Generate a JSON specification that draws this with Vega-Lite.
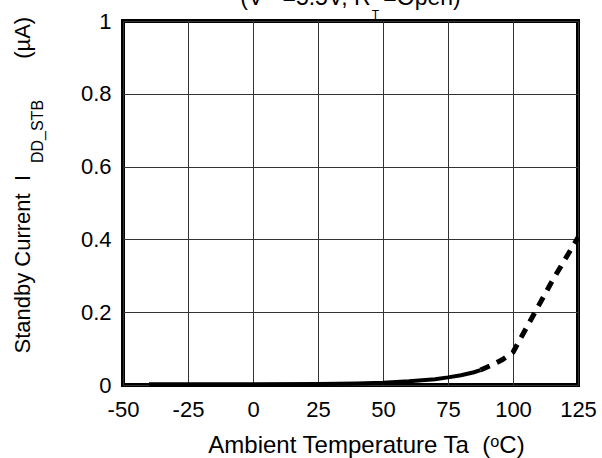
{
  "$schema": "https://vega.github.io/schema/vega-lite/v6.json",
  "width": 455,
  "height": 364,
  "autosize": {"type": "none"},
  "padding": {"left": 123, "top": 21, "right": 24, "bottom": 73},
  "background": "white",
  "title": {
    "text": "(V\u00a0\u00a0\u00a0=5.5V, R\u00a0\u00a0=Open)",
    "subtitle": "\u200b\u00a0\u00a0\u00a0\u00a0\u00a0\u00a0\u00a0\u00a0\u00a0\u00a0\u00a0\u00a0\u00a0\u00a0\u00a0T",
    "anchor": "middle",
    "font": "Liberation Sans",
    "fontSize": 23,
    "fontWeight": "normal",
    "color": "black",
    "subtitleFont": "Liberation Sans",
    "subtitleFontSize": 12,
    "subtitleColor": "black",
    "subtitlePadding": 0,
    "offset": 0,
    "dy": 11
  },
  "config": {
    "view": {"stroke": "black", "strokeWidth": 4},
    "font": "Liberation Sans"
  },
  "datasets": {
    "solid": [
      {"t": -40, "i": 0.002},
      {"t": -25, "i": 0.002},
      {"t": 0, "i": 0.002},
      {"t": 25, "i": 0.003},
      {"t": 40, "i": 0.004},
      {"t": 50, "i": 0.006},
      {"t": 60, "i": 0.01},
      {"t": 70, "i": 0.016},
      {"t": 75, "i": 0.021},
      {"t": 80, "i": 0.027},
      {"t": 85, "i": 0.035},
      {"t": 87.5, "i": 0.041}
    ],
    "dashed": [
      {"t": 87.5, "i": 0.041},
      {"t": 92, "i": 0.055},
      {"t": 96, "i": 0.07},
      {"t": 100, "i": 0.09},
      {"t": 105, "i": 0.155},
      {"t": 110, "i": 0.22},
      {"t": 115, "i": 0.285},
      {"t": 120, "i": 0.345},
      {"t": 125, "i": 0.405}
    ]
  },
  "layer": [
    {
      "data": {"name": "solid"},
      "mark": {"type": "line", "color": "black", "strokeWidth": 4},
      "encoding": {
        "x": {
          "field": "t",
          "type": "quantitative",
          "scale": {"domain": [-50, 125], "nice": false},
          "axis": {
            "values": [-50, -25, 0, 25, 50, 75, 100, 125],
            "labelExpr": "'' + datum.value",
            "grid": true,
            "gridColor": "#333333",
            "gridWidth": 1,
            "gridOpacity": 1,
            "domain": false,
            "ticks": false,
            "labelFont": "Liberation Sans",
            "labelFontSize": 22,
            "labelColor": "black",
            "labelPadding": 14,
            "labelFlush": false,
            "title": "Ambient Temperature Ta\u00a0\u00a0(\u1d52C)",
            "titleFont": "Liberation Sans",
            "titleFontSize": 24,
            "titleFontWeight": "normal",
            "titleColor": "black",
            "titleX": 243,
            "titleY": 67,
            "titleBaseline": "alphabetic",
            "titleAlign": "center"
          }
        },
        "y": {
          "field": "i",
          "type": "quantitative",
          "scale": {"domain": [0, 1], "nice": false},
          "axis": {
            "values": [0, 0.2, 0.4, 0.6, 0.8, 1],
            "format": "~g",
            "grid": true,
            "gridColor": "#333333",
            "gridWidth": 1,
            "gridOpacity": 1,
            "domain": false,
            "ticks": false,
            "labelFont": "Liberation Sans",
            "labelFontSize": 22,
            "labelColor": "black",
            "labelPadding": 12,
            "labelFlush": false,
            "title": "Standby Current\u00a0\u00a0I\u00a0\u00a0\u00a0\u00a0\u00a0\u00a0\u00a0\u00a0\u00a0\u00a0\u00a0\u00a0\u00a0\u00a0\u00a0\u00a0\u00a0\u00a0\u00a0(\u00b5A)",
            "titleFont": "Liberation Sans",
            "titleFontSize": 22,
            "titleFontWeight": "normal",
            "titleColor": "black",
            "titleAngle": 270,
            "titleAlign": "left",
            "titleBaseline": "alphabetic",
            "titleX": -94,
            "titleY": 332
          }
        }
      }
    },
    {
      "data": {"name": "dashed"},
      "mark": {"type": "line", "color": "black", "strokeWidth": 5, "strokeDash": [10, 8]},
      "encoding": {
        "x": {"field": "t", "type": "quantitative"},
        "y": {
          "field": "i",
          "type": "quantitative",
          "axis": {
            "orient": "left",
            "labels": false,
            "ticks": false,
            "domain": false,
            "grid": false,
            "title": "DD_STB",
            "titleFont": "Liberation Sans",
            "titleFontSize": 16,
            "titleFontWeight": "normal",
            "titleColor": "black",
            "titleAngle": 270,
            "titleAlign": "center",
            "titleBaseline": "alphabetic",
            "titleX": -81,
            "titleY": 110
          }
        }
      }
    }
  ],
  "resolve": {"axis": {"y": "independent"}}
}
